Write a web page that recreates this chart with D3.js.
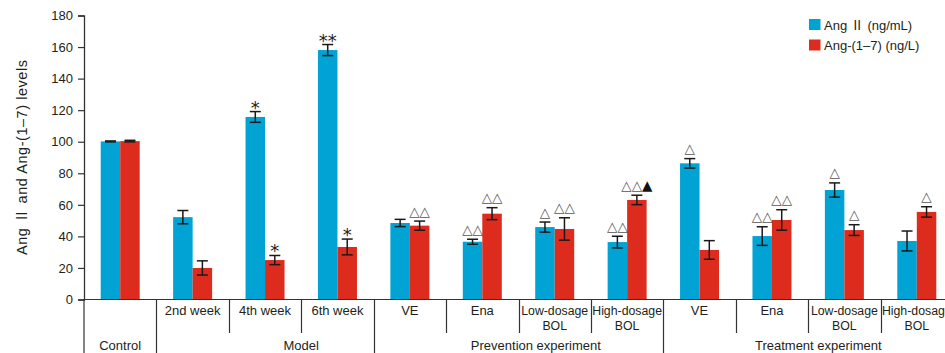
<!DOCTYPE html>
<html>
<head>
<meta charset="utf-8">
<script src="https://cdn.jsdelivr.net/npm/d3@7/dist/d3.min.js"></script>
<style>
  html, body { margin: 0; padding: 0; background: #fff; }
  svg { display: block; }
  text { font-family: "Liberation Sans", Arial, Helvetica, sans-serif; fill: #231f20; }
</style>
</head>
<body>
<svg id="chart" width="945" height="353"></svg>
<script>
// ---- data ----
const categories = ["Control", "2nd week", "4th week", "6th week",
  "VE", "Ena", "Low-dosage BOL", "High-dosage BOL",
  "VE", "Ena", "Low-dosage BOL", "High-dosage BOL"];
const subLabels = [[], ["2nd week"], ["4th week"], ["6th week"],
  ["VE"], ["Ena"], ["Low-dosage", "BOL"], ["High-dosage", "BOL"],
  ["VE"], ["Ena"], ["Low-dosage", "BOL"], ["High-dosage", "BOL"]];
const groupNames = ["Control", "Model", "Prevention experiment", "Treatment experiment"];
const groupStart = [0, 1, 4, 8];
const groupEnd = [1, 4, 8, 12];
const seriesNames = ["Ang \u2161 (ng/mL)", "Ang-(1\u20137) (ng/L)"];
const angII    = [100.2, 52.2, 115.7, 158.1, 48.5, 36.6, 45.9, 36.4, 86.3, 40.2, 69.4, 37.1];
const angIIErr = [0.3, 4.2, 3.4, 3.5, 2.3, 1.6, 3.2, 3.7, 3.0, 5.9, 4.5, 6.3];
const ang17    = [100.4, 20.0, 25.0, 33.3, 46.8, 54.4, 44.7, 63.1, 31.4, 50.4, 44.0, 55.5];
const ang17Err = [0.5, 4.5, 2.9, 5.0, 2.9, 3.8, 7.1, 3.0, 5.9, 6.5, 3.4, 3.3];
const annII  = ["", "", "*", "**", "", "\u25B3\u25B3", "\u25B3", "\u25B3\u25B3", "\u25B3", "\u25B3\u25B3", "\u25B3", ""];
const ann17  = ["", "", "*", "*", "\u25B3\u25B3", "\u25B3\u25B3", "\u25B3\u25B3", "\u25B3\u25B3\u25B2", "", "\u25B3\u25B3", "\u25B3", "\u25B3"];
const yTicks = [0, 20, 40, 60, 80, 100, 120, 140, 160, 180];
const yTitle = "Ang \u2161 and Ang-(1\u20137) levels";

// ---- layout ----
const colors = ["#01a3d4", "#dd2c1e"];
const axisX = 84, x1 = 953, y0 = 299.5, yTop = 15.5;
const groupLabelCenter = [0.5, 3.0, 6.24, 10.14]; // in slot units

const svg = d3.select("#chart");
const x = d3.scaleBand().domain(d3.range(categories.length)).range([axisX, x1]).padding(0);
const xs = d3.scaleBand().domain([0, 1]).range([0, x.bandwidth()]).paddingInner(0).paddingOuter(0.857);
const y = d3.scaleLinear().domain([0, 180]).range([y0, yTop]);
const slot = d3.scaleLinear().domain([0, categories.length]).range([axisX, x1]);

const series = [
  {vals: angII, err: angIIErr, ann: annII},
  {vals: ang17, err: ang17Err, ann: ann17}
];

// helper: write text, rendering the roman numeral with a CJK font (full-width glyph)
function richText(sel, str) {
  const parts = str.split("\u2161");
  parts.forEach((p, i) => {
    if (i > 0) sel.append("tspan").style("font-family", "Noto Sans CJK SC").text("\u2161");
    if (p) sel.append("tspan").text(p);
  });
}

// bars
series.forEach((s, si) => {
  const g = svg.append("g");
  g.selectAll("rect").data(s.vals).join("rect")
    .attr("x", (d, i) => x(i) + xs(si))
    .attr("width", xs.bandwidth())
    .attr("y", d => y(d))
    .attr("height", d => y(0) - y(d))
    .attr("fill", colors[si]);
});

// error bars
series.forEach((s, si) => {
  const g = svg.append("g").attr("stroke", "#1a1a1a").attr("stroke-width", 1.5);
  s.vals.forEach((v, i) => {
    const cx = x(i) + xs(si) + xs.bandwidth() / 2;
    const top = y(v + s.err[i]), bot = y(v - s.err[i]);
    g.append("line").attr("x1", cx).attr("x2", cx).attr("y1", top).attr("y2", bot);
    g.append("line").attr("x1", cx - 5.5).attr("x2", cx + 5.5).attr("y1", top).attr("y2", top);
    g.append("line").attr("x1", cx - 5.5).attr("x2", cx + 5.5).attr("y1", bot).attr("y2", bot);
  });
});

// annotations
series.forEach((s, si) => {
  s.vals.forEach((v, i) => {
    const a = s.ann[i];
    if (!a) return;
    const cx = x(i) + xs(si) + xs.bandwidth() / 2;
    const top = y(v + s.err[i]);
    if (a.indexOf("*") >= 0) {
      svg.append("text").attr("x", cx).attr("y", top + 2)
        .attr("text-anchor", "middle")
        .style("font-family", "DejaVu Sans").style("font-size", "18px").style("fill", "#222")
        .text(a);
    } else {
      const t = svg.append("text").attr("x", cx).attr("y", top - 5.5)
        .attr("text-anchor", "middle")
        .style("font-family", "DejaVu Sans").style("font-size", "13.5px");
      for (const ch of a) {
        t.append("tspan").text(ch).style("fill", ch === "\u25B2" ? "#111" : "#555");
      }
    }
  });
});

// y axis
const yAxis = d3.axisLeft(y).tickValues(yTicks).tickSize(6).tickPadding(5);
const ya = svg.append("g").attr("transform", `translate(${axisX},0)`).call(yAxis);
ya.select(".domain").attr("stroke", "#333").attr("stroke-width", 1.3);
ya.selectAll(".tick line").attr("stroke", "#333").attr("stroke-width", 1.2);
ya.selectAll(".tick text").style("font-size", "13px").style("fill", "#231f20")
  .style("font-family", "Liberation Sans, Arial, sans-serif");

// y title
const yt = svg.append("text")
  .attr("transform", `translate(26.5,157.5) rotate(-90)`)
  .attr("text-anchor", "middle")
  .attr("textLength", 195)
  .attr("lengthAdjust", "spacing")
  .style("font-size", "14.5px");
richText(yt, yTitle);

// table lines
const tbl = svg.append("g").attr("stroke", "#333").attr("stroke-width", 1.2);
tbl.append("line").attr("x1", axisX).attr("x2", 945).attr("y1", y0).attr("y2", y0);
tbl.append("line").attr("x1", axisX).attr("x2", axisX).attr("y1", y0).attr("y2", 353);
for (let b = 1; b <= categories.length; b++) {
  const full = groupEnd.indexOf(b) >= 0;
  const bx = Math.round(slot(b)) + 0.5;
  tbl.append("line").attr("x1", bx).attr("x2", bx).attr("y1", y0).attr("y2", full ? 353 : 333);
}

// sub labels
subLabels.forEach((lines, i) => {
  lines.forEach((ln, li) => {
    svg.append("text")
      .attr("x", x(i) + x.bandwidth() / 2)
      .attr("y", 315 + li * 14.5)
      .attr("text-anchor", "middle")
      .style("font-size", lines.length > 1 ? "12.3px" : "13px")
      .text(ln);
  });
});

// group labels
groupNames.forEach((gn, gi) => {
  svg.append("text")
    .attr("x", slot(groupLabelCenter[gi]))
    .attr("y", 349.5)
    .attr("text-anchor", "middle")
    .style("font-size", "13px")
    .text(gn);
});

// legend
const lg = svg.append("g");
seriesNames.forEach((n, i) => {
  lg.append("rect").attr("x", 809).attr("y", 19 + i * 20.5).attr("width", 11.5).attr("height", 11)
    .attr("fill", colors[i]);
  const t = lg.append("text").attr("x", 824).attr("y", 29.5 + i * 20.5)
    .style("font-size", "13px");
  richText(t, n);
});
</script>
</body>
</html>
